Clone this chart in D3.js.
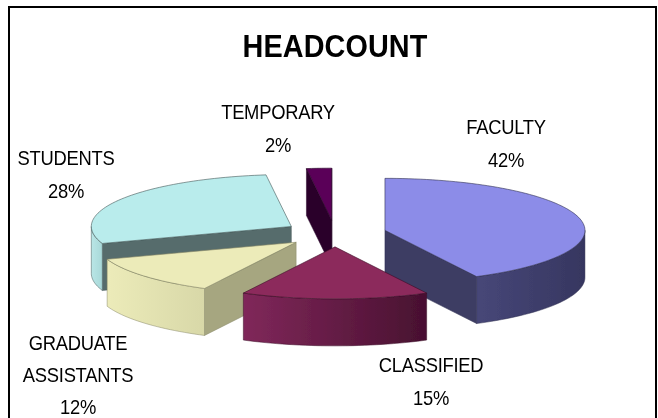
<!DOCTYPE html>
<html>
<head>
<meta charset="utf-8">
<style>
  html, body { margin: 0; padding: 0; background: #fff; }
  svg { display: block; }
  text { font-family: "Liberation Sans", Arial, sans-serif; fill: #000; }
</style>
<script src="https://cdn.jsdelivr.net/npm/d3@7/dist/d3.min.js"></script>
</head>
<body>
<div id="chart"></div>
<script>
const categories = ["FACULTY", "CLASSIFIED", "GRADUATE ASSISTANTS", "STUDENTS", "TEMPORARY"];
const values = [42, 15, 12, 28, 2];

const topColors = ["#8c8ce8", "#8c2c5c", "#ecebb9", "#b9ecec", "#5a0058"];
const wallLight = ["#474778", "#80285a", "#ecebb9", "#b9e6e6", "#5a0058"];
const wallDark = ["#363660", "#481030", "#d8d8a8", "#a8d8d8", "#5a0058"];
const cutColors = ["#3c3c64", "#481030", "#a6a680", "#566c6c", "#2c002c"];

// label lines + anchor position (px)
const labelLines = [["FACULTY", "42%"], ["CLASSIFIED", "15%"], ["GRADUATE", "ASSISTANTS", "12%"], ["STUDENTS", "28%"], ["TEMPORARY", "2%"]];
const labelX = [506, 431, 78, 66, 278];
const labelY = [134, 372, 350, 165, 119];
const labelGap = [33, 33, 32, 33, 33];

const width = 658, height = 418;
const depth = 47;
const explode = 0.257;

// unit circle -> screen ellipse
const x = d3.scaleLinear().domain([-1, 1]).range([135, 535]);
const y = d3.scaleLinear().domain([-1, 1]).range([181.5, 285.5]);

const svg = d3.select("#chart").append("svg")
  .attr("width", width)
  .attr("height", height);

svg.append("rect")
  .attr("x", 9).attr("y", 7)
  .attr("width", 647).attr("height", 420)
  .attr("fill", "#fff")
  .attr("stroke", "#000")
  .attr("stroke-width", 2);

const defs = svg.append("defs");
defs.append("filter").attr("id", "soft")
  .append("feGaussianBlur").attr("stdDeviation", 0.45);
defs.append("filter").attr("id", "softText")
  .append("feGaussianBlur").attr("stdDeviation", 0.3);

svg.append("text")
  .attr("transform", "translate(335,57) scale(0.93,1)")
  .attr("text-anchor", "middle")
  .attr("font-size", 31)
  .attr("font-weight", "bold")
  .attr("filter", "url(#softText)")
  .style("letter-spacing", "0.1px")
  .text("HEADCOUNT");

const pie = d3.pie().sort(null).value(d => d);
const arcs = pie(values);

const line = d3.line();

function arcPoints(a0, a1, ox, oy, dy) {
  const n = Math.max(2, Math.ceil((a1 - a0) / 0.03));
  return d3.range(n + 1).map(i => {
    const a = a0 + (a1 - a0) * i / n;
    return [x(Math.sin(a) + ox), y(-Math.cos(a) + oy) + dy];
  });
}

const pieGroup = svg.append("g").attr("filter", "url(#soft)");

// back to front
const drawOrder = [4, 3, 0, 2, 1];

drawOrder.forEach(i => {
  const d = arcs[i];
  const mid = (d.startAngle + d.endAngle) / 2;
  const ox = explode * Math.sin(mid);
  const oy = -explode * Math.cos(mid);
  const apex = [x(ox), y(oy)];
  const g = pieGroup.append("g");
  const stroke = d3.color(cutColors[i]).darker(0.6);

  // cut faces, only those turned towards the viewer
  const faces = [];
  if (Math.sin(d.startAngle) < 0) faces.push(d.startAngle);
  if (Math.sin(d.endAngle) > 0) faces.push(d.endAngle);
  faces.forEach(a => {
    const p = [x(Math.sin(a) + ox), y(-Math.cos(a) + oy)];
    g.append("path")
      .attr("d", line([apex, p, [p[0], p[1] + depth], [apex[0], apex[1] + depth]]) + "Z")
      .attr("fill", cutColors[i])
      .attr("stroke", stroke)
      .attr("stroke-width", 0.5);
  });

  // outer wall (only the part facing the viewer)
  const w0 = Math.max(d.startAngle, Math.PI / 2);
  const w1 = Math.min(d.endAngle, Math.PI * 1.5);
  if (w1 > w0) {
    const top = arcPoints(w0, w1, ox, oy, 0);
    const bottom = arcPoints(w0, w1, ox, oy, depth).reverse();
    const id = "wall" + i;
    // lighter end sits on the left of each wall
    const xs = top.map(p => p[0]);
    const grad = defs.append("linearGradient").attr("id", id)
      .attr("gradientUnits", "userSpaceOnUse")
      .attr("x1", d3.min(xs)).attr("x2", d3.max(xs))
      .attr("y1", 0).attr("y2", 0);
    grad.append("stop").attr("offset", 0).attr("stop-color", wallLight[i]);
    grad.append("stop").attr("offset", 1).attr("stop-color", wallDark[i]);
    g.append("path")
      .attr("d", line(top.concat(bottom)) + "Z")
      .attr("fill", `url(#${id})`)
      .attr("stroke", stroke)
      .attr("stroke-width", 0.5);
  }

  // top face
  g.append("path")
    .attr("d", line([apex].concat(arcPoints(d.startAngle, d.endAngle, ox, oy, 0))) + "Z")
    .attr("fill", topColors[i])
    .attr("stroke", stroke)
    .attr("stroke-width", 0.6);
});

// labels
labelLines.forEach((lines, i) => {
  lines.forEach((t, j) => {
    svg.append("text")
      .attr("transform", `translate(${labelX[i]},${labelY[i] + j * labelGap[i]}) scale(0.92,1)`)
      .attr("text-anchor", "middle")
      .attr("font-size", 20)
      .attr("filter", "url(#softText)")
      .style("letter-spacing", "-0.3px")
      .text(t);
  });
});
</script>
</body>
</html>
